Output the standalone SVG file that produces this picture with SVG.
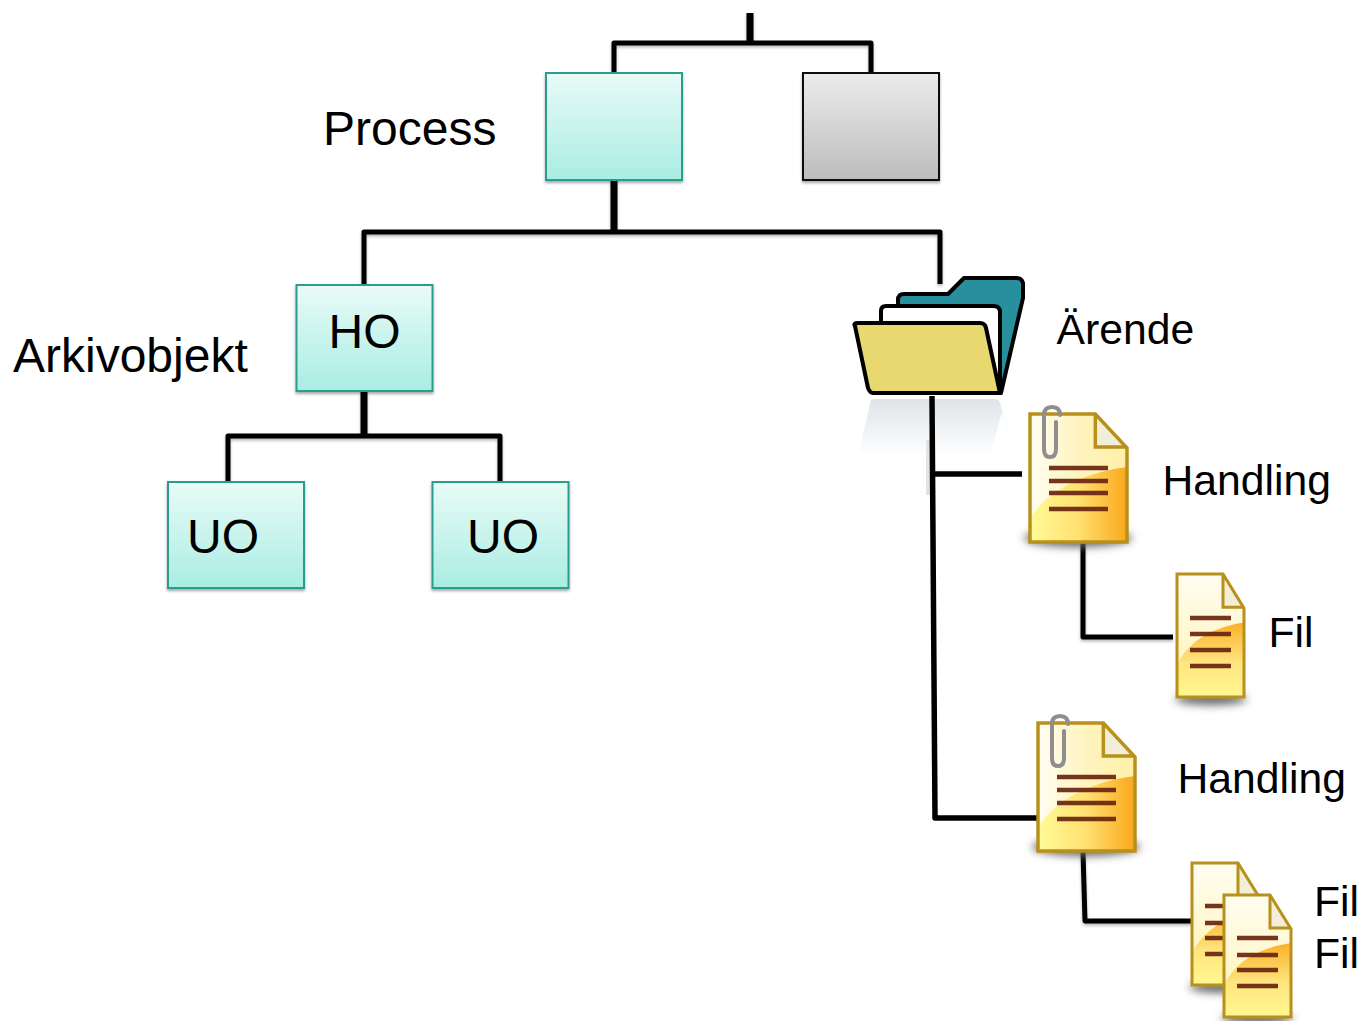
<svg xmlns="http://www.w3.org/2000/svg" width="1362" height="1021" viewBox="0 0 1362 1021">
<style>
text{font-family:"Liberation Sans",Arial,sans-serif;fill:#000}
.t1{font-size:48px}.t2{font-size:42.700px}
.c{fill:none;stroke:#000;stroke-width:5;stroke-linejoin:round}
.c2{stroke-width:7}
.box{fill:url(#teal);stroke:#2a9d8f;stroke-width:2;filter:url(#ds)}
.ln{stroke:#6e2a12;stroke-width:4.500;opacity:.95}
.sh{fill:#666;filter:url(#blur)}
</style>
<defs>
<linearGradient id="teal" x1="0" y1="0" x2="0" y2="1"><stop offset="0" stop-color="#e9fbf7"/><stop offset="1" stop-color="#a9ede3"/></linearGradient>
<linearGradient id="grey" x1="0" y1="0" x2="0" y2="1"><stop offset="0" stop-color="#ececec"/><stop offset="1" stop-color="#bcbcbc"/></linearGradient>
<linearGradient id="docA" x1="0" y1="0" x2="1" y2="0"><stop offset="0" stop-color="#fffdf2"/><stop offset="0.5" stop-color="#fff4bf"/><stop offset="1" stop-color="#fff0a8"/></linearGradient>
<linearGradient id="docB" x1="0" y1="0" x2="1" y2="0"><stop offset="0" stop-color="#fffb98"/><stop offset="0.5" stop-color="#ffe070"/><stop offset="1" stop-color="#fba71c"/></linearGradient>
<linearGradient id="docV" x1="0" y1="0" x2="0" y2="1"><stop offset="0" stop-color="#fbb02a"/><stop offset="0.55" stop-color="#ffe680"/><stop offset="1" stop-color="#fff790"/></linearGradient>
<linearGradient id="docT" x1="0" y1="0" x2="0" y2="1"><stop offset="0" stop-color="#fffdf2"/><stop offset="1" stop-color="#fff2b0"/></linearGradient>
<linearGradient id="refl" x1="0" y1="0" x2="0" y2="1"><stop offset="0" stop-color="#dfe4e8"/><stop offset="1" stop-color="#fff"/></linearGradient>
<filter id="ds" x="-10%" y="-10%" width="120%" height="120%"><feDropShadow dx="0" dy="2" stdDeviation="1.500" flood-color="#000" flood-opacity=".35"/></filter>
<filter id="ls" filterUnits="userSpaceOnUse" x="0" y="0" width="1362" height="1021"><feDropShadow dx="0" dy="2" stdDeviation="1.500" flood-color="#000" flood-opacity=".28"/></filter>
<filter id="blur" x="-20%" y="-100%" width="140%" height="300%"><feGaussianBlur stdDeviation="4"/></filter>
<symbol id="doc" viewBox="0 0 98 128" preserveAspectRatio="none" overflow="visible">
<path d="M0 0H66L98 34V128H0Z" fill="url(#docA)"/>
<path d="M0 104C22 72 60 58 98 53V128H0Z" fill="url(#docB)"/>
<path d="M66 0V33H98Z" fill="#f3eed8"/>
<path d="M0 0H66L98 34V128H0ZM66 0V33H98" fill="none" stroke="#b8901c" stroke-width="3.500"/>
</symbol>
<symbol id="docs" viewBox="0 0 67 122" preserveAspectRatio="none" overflow="visible">
<path d="M0 0H46L67 34V122H0Z" fill="url(#docT)"/>
<path d="M0 90C14 62 42 52 67 48V122H0Z" fill="url(#docV)"/>
<path d="M46 0V33H67Z" fill="#f3eed8"/>
<path d="M0 0H46L67 34V122H0ZM46 0V33H67" fill="none" stroke="#b8901c" stroke-width="3"/>
</symbol>
<path id="clip" d="M19 10Q19 2 11 2Q3 2 3 10V44Q3 52 9 52Q15 52 15 44V17" fill="none" stroke="#8e8e8e" stroke-width="4" stroke-linecap="round"/>
</defs>
<rect width="1362" height="1021" fill="#fff"/>
<g id="connectors" filter="url(#ls)">
<path class="c" d="M614 72V43H871V72"/>
<path class="c c2" d="M750 13V43"/>
<path class="c c2" d="M614 180V232"/>
<path class="c" d="M364 284V232H940V284"/>
<path class="c c2" d="M364 391V436"/>
<path class="c" d="M228 481V436H500V481"/>
<path class="c" d="M1083 543V637H1173"/>
<path class="c" d="M1083 852L1085 921H1192"/>
</g>
<g id="process"><rect class="box" x="546" y="73" width="136" height="107"/></g>
<g id="grey-box"><rect x="803" y="73" width="136" height="107" fill="url(#grey)" stroke="#111" stroke-width="2" filter="url(#ds)"/></g>
<text class="t1" x="323" y="145">Process</text>
<g id="ho"><rect class="box" x="296.500" y="285" width="136" height="106"/><text class="t1" x="328.500" y="348">HO</text></g>
<text class="t1" x="13" y="372">Arkivobjekt</text>
<g id="uo1"><rect class="box" x="168" y="482" width="136" height="106"/><text class="t1" x="187" y="553">UO</text></g>
<g id="uo2"><rect class="box" x="432.500" y="482" width="136" height="106"/><text class="t1" x="467" y="553">UO</text></g>
<g id="arende">
<path d="M871 400Q872 399 875 399H994Q999 399 1000 403L1014 456H858Z" fill="url(#refl)"/>
<path d="M990 456L1002 412L1014 456Z" fill="#fff"/>
<rect x="926" y="440" width="5" height="55" fill="#dfe4ea"/>
<path d="M898 300Q898 294 904 294H948L964 278H1016Q1024 278 1023 287V298L1001 393H899Z" fill="#28909c" stroke="#000" stroke-width="4" stroke-linejoin="round"/>
<path d="M881 320V311Q881 306 886 306H993Q1000 306 1000 312V392H885Z" fill="#fff" stroke="#000" stroke-width="4" stroke-linejoin="round"/>
<path d="M855 326Q853 323 858 323H980Q985 323 986 328L1000 393H873Q870 393 868 388Z" fill="#e8d870" stroke="#000" stroke-width="4" stroke-linejoin="round"/>
<text class="t2" x="1056.500" y="344">Ärende</text>
</g>
<g id="trunk" class="c" style="stroke-width:5.500">
<path d="M932 396L935 818H1037"/>
<path d="M934 474H1022"/>
</g>
<g id="handling1">
<ellipse class="sh" cx="1078" cy="538" rx="54" ry="9"/>
<use href="#doc" x="1030" y="414" width="97" height="128"/>
<path class="ln" d="M1049 468H1108M1049 481H1108M1049 493H1108M1049 509H1108"/>
<use href="#clip" transform="translate(1041 405)"/>
<text class="t2" x="1162.500" y="495">Handling</text>
</g>
<g id="fil1">
<ellipse class="sh" cx="1211" cy="699" rx="36" ry="6"/>
<use href="#docs" x="1177" y="574" width="67" height="123"/>
<path class="ln" d="M1190 618H1231M1190 634H1231M1190 650H1231M1190 666H1231"/>
<text class="t2" x="1268.500" y="647">Fil</text>
</g>
<g id="handling2">
<ellipse class="sh" cx="1086" cy="847" rx="54" ry="9"/>
<use href="#doc" x="1038" y="723" width="97" height="128"/>
<path class="ln" d="M1057 777H1116M1057 790H1116M1057 803H1116M1057 819H1116"/>
<use href="#clip" transform="translate(1049 714)"/>
<text class="t2" x="1177.500" y="793">Handling</text>
</g>
<g id="fil2">
<ellipse class="sh" cx="1225" cy="987" rx="36" ry="6"/>
<use href="#docs" x="1192" y="863" width="67" height="122"/>
<path class="ln" d="M1205 906H1246M1205 923H1246M1205 938H1246M1205 954H1246"/>
<text class="t2" x="1314" y="916">Fil</text>
</g>
<g id="fil3">
<ellipse class="sh" cx="1257" cy="1018" rx="36" ry="6"/>
<use href="#docs" x="1224" y="895" width="67" height="122"/>
<path class="ln" d="M1237 938H1278M1237 955H1278M1237 970H1278M1237 986H1278"/>
<text class="t2" x="1314" y="968">Fil</text>
</g>
</svg>
